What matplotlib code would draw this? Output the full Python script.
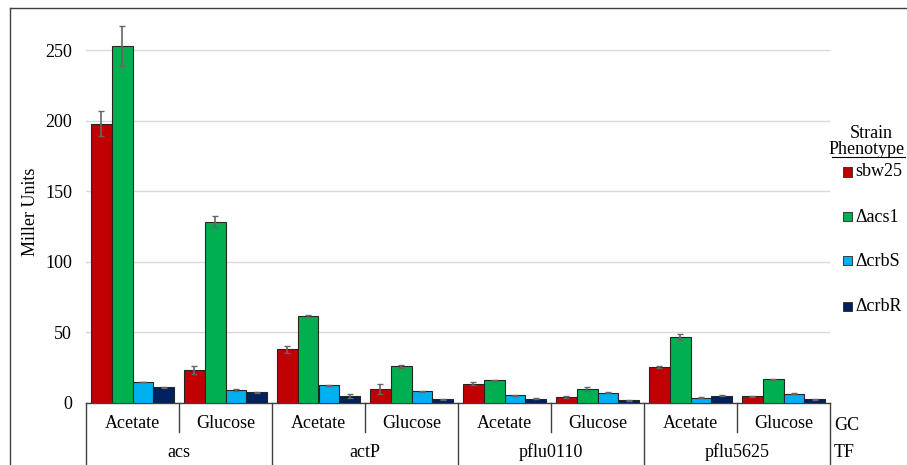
import matplotlib
matplotlib.use('Agg')
import matplotlib.pyplot as plt
from matplotlib.patches import Rectangle
from matplotlib.lines import Line2D
import numpy as np

plt.rcParams['font.family'] = ['Liberation Serif', 'DejaVu Serif']
plt.rcParams['font.size'] = 13

tf_names = ['acs', 'actP', 'pflu0110', 'pflu5625']
gc_names = ['Acetate', 'Glucose']
strains = ['sbw25', '\u0394acs1', '\u0394crbS', '\u0394crbR']
colors = ['#C00000', '#00B050', '#00B0F0', '#002060']

# values per GC group (acs-Ace, acs-Glu, actP-Ace, actP-Glu, pflu0110-Ace, pflu0110-Glu, pflu5625-Ace, pflu5625-Glu)
sbw25 = [198, 23.2, 37.9, 9.7, 13.5, 4.0, 25.3, 4.5]
acs1 = [253, 128.4, 61.5, 25.8, 15.9, 9.5, 46.8, 16.6]
crbS = [14.7, 8.8, 12.3, 8.1, 5.2, 7.1, 3.5, 6.4]
crbR = [10.9, 7.4, 5.0, 2.4, 2.8, 1.7, 5.0, 2.4]

sbw25_err = [9, 3, 2.5, 3.3, 1, 0.4, 1, 0.4]
acs1_err = [14, 4, 0.5, 1, 0.4, 1.5, 2, 0.4]
crbS_err = [0.3, 0.8, 0.3, 0.3, 0.3, 0.3, 0.3, 0.3]
crbR_err = [0.5, 0.5, 1.5, 0.3, 0.3, 0.4, 0.5, 0.4]

series = [sbw25, acs1, crbS, crbR]
errors = [sbw25_err, acs1_err, crbS_err, crbR_err]

W, H = 907, 465
fig = plt.figure(figsize=(W / 100, H / 100), dpi=100)

x0, x1 = 86, 830
ytop, ybot = 20, 402.7
ax = fig.add_axes([x0 / W, (H - ybot) / H, (x1 - x0) / W, (ybot - ytop) / H])

n = len(sbw25)
x = np.arange(n)
bw = 0.2258
for i, (vals, errs) in enumerate(zip(series, errors)):
    pos = x + (i - 1.5) * bw
    ax.bar(pos, vals, width=bw, color=colors[i], edgecolor='#262626', linewidth=0.8, zorder=3)
    ax.errorbar(pos, vals, yerr=errs, fmt='none', ecolor='#666666', elinewidth=1.2,
                capsize=2.5, capthick=1, zorder=4)

ax.set_xlim(-0.5, n - 0.5)
ax.set_ylim(0, (ybot - ytop) / 1.4096)
ax.set_yticks([0, 50, 100, 150, 200, 250])
ax.yaxis.grid(True, color='#d9d9d9', linewidth=1, zorder=0)
ax.tick_params(axis='y', length=0, pad=10, labelsize=13)
ax.set_xticks([])
for s in ['top', 'right', 'left']:
    ax.spines[s].set_visible(False)
ax.spines['bottom'].set_color('#404040')
ax.spines['bottom'].set_linewidth(1)
ax.set_ylabel('Miller Units', fontsize=13)
ax.yaxis.set_label_coords((39 - x0) / (x1 - x0), 0.5)

# multi-level category axis
tr = ax.get_xaxis_transform()
ah = ybot - ytop
def yfrac(py):
    return (ybot - py) / ah

for k in range(n):
    ax.text(k, yfrac(423), gc_names[k % 2], ha='center', va='center', transform=tr, fontsize=13)
    if k % 2 == 0:
        ax.add_line(Line2D([k + 0.5, k + 0.5], [0, yfrac(432)], transform=tr, color='#404040',
                           linewidth=1, clip_on=False))
for j, name in enumerate(tf_names):
    ax.text(2 * j + 0.5, yfrac(452), name, ha='center', va='center', transform=tr, fontsize=13)
for b in [-0.5, 1.5, 3.5, 5.5, 7.5]:
    ax.add_line(Line2D([b, b], [0, yfrac(470)], transform=tr, color='#404040',
                       linewidth=1, clip_on=False))

fig.text(834 / W, 1 - 425 / H, 'GC', ha='left', va='center', fontsize=13)
fig.text(834 / W, 1 - 452 / H, 'TF', ha='left', va='center', fontsize=13)

# legend
fig.text(871 / W, 1 - 134 / H, 'Strain', ha='center', va='center', fontsize=13)
fig.text(905 / W, 1 - 150 / H, 'Phenotype', ha='right', va='center', fontsize=13)
fig.add_artist(Line2D([832 / W, 905 / W], [1 - 157 / H, 1 - 157 / H], color='black', linewidth=0.8))
leg_y = [172, 217, 261, 306]
for c, lab, py in zip(colors, strains, leg_y):
    fig.add_artist(Rectangle((843 / W, 1 - (py + 4.5) / H), 9 / W, 9 / H, facecolor=c,
                             edgecolor='#262626', linewidth=0.6))
    fig.text(855 / W, 1 - py / H, lab, ha='left', va='center', fontsize=13)

# outer frame (cropped)
fig.add_artist(Line2D([10 / W, 10 / W], [0, 1 - 8 / H], color='#404040', linewidth=1))
fig.add_artist(Line2D([10 / W, 1], [1 - 8 / H, 1 - 8 / H], color='#404040', linewidth=1))

fig.savefig('out.png', dpi=100)
